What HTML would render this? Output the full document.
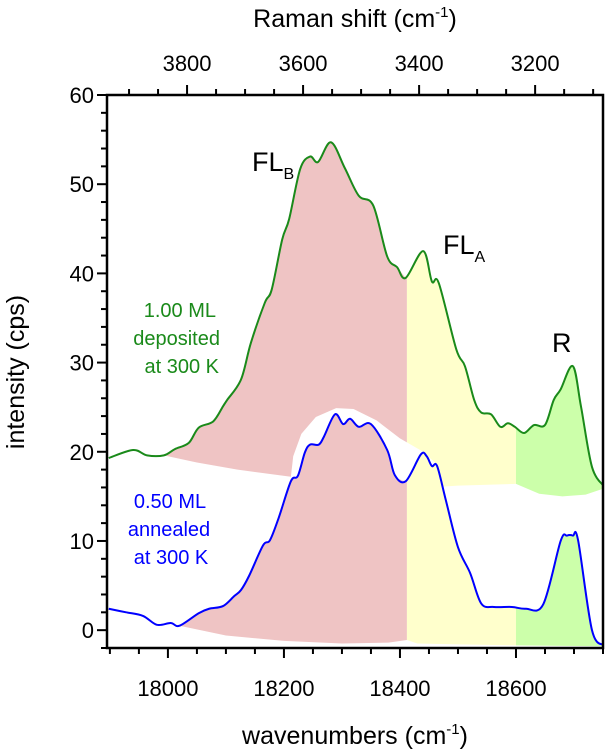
<!DOCTYPE html>
<html><head><meta charset="utf-8"><style>
body{margin:0;background:#fff}
svg{display:block;font-family:"Liberation Sans",Arial,sans-serif}
</style></head><body>
<svg id="c" width="605" height="752" viewBox="0 0 605 752"></svg>
<script>
const greenX=[17898,17940,17964,17993,18012,18036,18053,18078,18095,18102,18126,18143,18167,18179,18197,18209,18228,18245,18259,18281,18305,18329,18354,18378,18395,18410,18440,18455,18467,18497,18512,18528,18540,18557,18573,18586,18598,18614,18631,18650,18665,18677,18698,18712,18731,18752];
const greenY=[19.3,20.2,19.6,19.6,20.3,21.0,22.7,23.4,25.1,25.8,28.1,32.2,36.7,38.2,43.8,46.1,51.7,53.1,52.5,54.7,51.8,48.7,47.6,41.9,40.7,39.5,42.5,39.1,38.9,31.5,29.6,25.8,24.4,24.2,22.8,23.2,22.8,22.1,23.0,23.0,25.8,27.0,29.6,25.1,18.3,16.1];
const blueX=[17898,17928,17957,17981,18005,18020,18053,18071,18095,18114,18126,18140,18164,18176,18191,18212,18224,18236,18245,18260,18269,18288,18302,18314,18329,18350,18378,18391,18410,18436,18446,18455,18464,18479,18500,18521,18540,18562,18593,18617,18647,18677,18688,18698,18707,18731,18752];
const blueY=[2.4,2.0,1.6,0.6,0.8,0.5,1.9,2.4,2.7,3.8,4.5,6.1,9.5,10.1,12.6,16.7,17.3,19.9,20.8,20.8,21.7,24.2,23.1,23.7,22.8,23.1,20.2,17.4,16.7,19.7,19.5,18.4,18.4,14.6,9.3,6.4,3.0,2.6,2.6,2.4,2.9,10.0,10.6,10.6,10.1,0,-1.7];
const xTicks=[18000,18200,18400,18600];
const yTicks=[0,10,20,30,40,50,60];
const ramanTicks=[3800,3600,3400,3200];
const laser=21833;
const X0=17895,X1=18750,Y0=-2,Y1=60;
const L=107,R=603,T=95,B=648;
const sx=v=>L+(v-X0)/(X1-X0)*(R-L);
const sy=v=>B-(v-Y0)/(Y1-Y0)*(B-T);
const svg=document.getElementById('c');
const NS='http://www.w3.org/2000/svg';
function mk(tag,attrs,parent){const e=document.createElementNS(NS,tag);for(const k in attrs)e.setAttribute(k,attrs[k]);(parent||svg).appendChild(e);return e;}
function interp(xs,ys,x){for(let i=0;i<xs.length-1;i++){if(x>=xs[i]&&x<=xs[i+1]){return ys[i]+(ys[i+1]-ys[i])*(x-xs[i])/(xs[i+1]-xs[i]);}}return x<xs[0]?ys[0]:ys[ys.length-1];}
function seg(xs,ys,a,b){const p=[[a,interp(xs,ys,a)]];for(let i=0;i<xs.length;i++)if(xs[i]>a&&xs[i]<b)p.push([xs[i],ys[i]]);p.push([b,interp(xs,ys,b)]);return p;}
function smooth(pts){let d='M'+pts[0][0]+','+pts[0][1];for(let i=0;i<pts.length-1;i++){const p0=pts[i-1]||pts[i],p1=pts[i],p2=pts[i+1],p3=pts[i+2]||p2;d+=' C'+(p1[0]+(p2[0]-p0[0])/6)+','+(p1[1]+(p2[1]-p0[1])/6)+' '+(p2[0]-(p3[0]-p1[0])/6)+','+(p2[1]-(p3[1]-p1[1])/6)+' '+p2[0]+','+p2[1];}return d;}
const cp=mk('clipPath',{id:'clip'});mk('rect',{x:L,y:T,width:R-L,height:B-T},cp);
const g=mk('g',{'clip-path':'url(#clip)'});
function fill(xs,ys,a,b,base,color,name){
 const top=seg(xs,ys,a,b).map(p=>[sx(p[0]),sy(p[1])]);
 const bot=base.slice().reverse().map(p=>[sx(p[0]),sy(p[1])]);
 const e=mk('path',{d:smooth(top)+' L'+bot.map(p=>p[0]+','+p[1]).join(' L')+' Z',fill:color},g);
 
 
}
const RED='#efc4c4',YEL='#ffffcc',GRN='#ccffaa';
fill(greenX,greenY,17993,18412,[[17993,19.6],[18050,18.8],[18120,18.0],[18212,17.2],[18300,16.8],[18412,16.5]],RED,'green-fl-b-area');
fill(greenX,greenY,18412,18600,[[18412,16.5],[18450,16.0],[18500,16.2],[18600,16.4]],YEL,'green-fl-a-area');
fill(greenX,greenY,18600,18752,[[18600,16.4],[18640,15.3],[18680,15.0],[18720,15.2],[18752,15.9]],GRN,'green-r-area');
const halo=[[18212,17.2],[18216,19.5],[18230,22.0],[18255,23.9],[18290,24.9],[18320,24.8],[18360,23.5],[18400,21.5],[18440,20.0],[18465,18.5],[18480,12],[18212,12]].map(p=>sx(p[0])+','+sy(p[1]));
const h=mk('path',{d:'M'+halo.join(' L')+' Z',fill:'#fff'},g);


fill(blueX,blueY,18020,18412,[[18020,0.5],[18100,-0.6],[18200,-1.2],[18300,-1.5],[18380,-1.4],[18412,-1.1]],RED,'blue-fl-b-area');
fill(blueX,blueY,18412,18600,[[18412,-1.1],[18430,-1.5],[18500,-1.6],[18600,-1.7]],YEL,'blue-fl-a-area');
fill(blueX,blueY,18600,18752,[[18600,-1.7],[18752,-1.8]],GRN,'blue-r-area');
const gl=mk('path',{d:smooth(greenX.map((x,i)=>[sx(x),sy(greenY[i])])),fill:'none',stroke:'#1a8a1a','stroke-width':2},g);


const bl=mk('path',{d:smooth(blueX.map((x,i)=>[sx(x),sy(blueY[i])])),fill:'none',stroke:'#0000ff','stroke-width':2},g);


const fr=mk('rect',{x:L,y:T,width:R-L,height:B-T,fill:'none',stroke:'#000','stroke-width':2.5});


for(let v=17900;v<=18750;v+=50){const x=sx(v);const maj=v%200===0;mk('line',{x1:x,x2:x,y1:B,y2:B+(maj?10:6),stroke:'#000','stroke-width':2});}
xTicks.forEach(v=>{const t=mk('text',{x:sx(v),y:B+48,'font-size':22,'text-anchor':'middle'});t.textContent=v;});
for(let v=-2;v<=60;v+=2){const y=sy(v);const maj=v%10===0;mk('line',{x1:L,x2:L-(maj?10:6),y1:y,y2:y,stroke:'#000','stroke-width':2});}
yTicks.forEach(v=>{const t=mk('text',{x:L-13,y:sy(v)+8,'font-size':22,'text-anchor':'end'});t.textContent=v;});
for(let r=3100;r<=3950;r+=50){const x=sx(laser-r);if(x<L||x>R)continue;const maj=r%200===0;mk('line',{x1:x,x2:x,y1:T,y2:T-(maj?10:6),stroke:'#000','stroke-width':2});}
ramanTicks.forEach(v=>{const t=mk('text',{x:sx(laser-v),y:T-24,'font-size':22,'text-anchor':'middle'});t.textContent=v;});
</script>
<svg width="605" height="752" style="position:absolute;left:0;top:0;font-family:'Liberation Sans',Arial,sans-serif">
<text x="355" y="27" font-size="25" text-anchor="middle">Raman shift (cm<tspan font-size="15" dy="-10">-1</tspan><tspan dy="10">)</tspan></text>
<text x="355" y="744" font-size="25" text-anchor="middle">wavenumbers (cm<tspan font-size="15" dy="-10">-1</tspan><tspan dy="10">)</tspan></text>
<text transform="translate(24,372) rotate(-90)" font-size="25" text-anchor="middle">intensity (cps)</text>
<text x="252" y="171" font-size="27">FL<tspan font-size="16" dy="8">B</tspan></text>
<text x="443" y="254" font-size="27">FL<tspan font-size="16" dy="8">A</tspan></text>
<text x="552" y="352" font-size="27">R</text>
<g fill="#1a8a1a" font-size="20" text-anchor="end">
<text x="216" y="317">1.00 ML</text><text x="220" y="345">deposited</text><text x="219" y="373">at 300 K</text></g>
<g fill="#0000ff" font-size="20" text-anchor="middle">
<text x="170" y="508">0.50 ML</text><text x="169" y="536">annealed</text><text x="171" y="564">at 300 K</text></g>
</svg>
</body></html>
